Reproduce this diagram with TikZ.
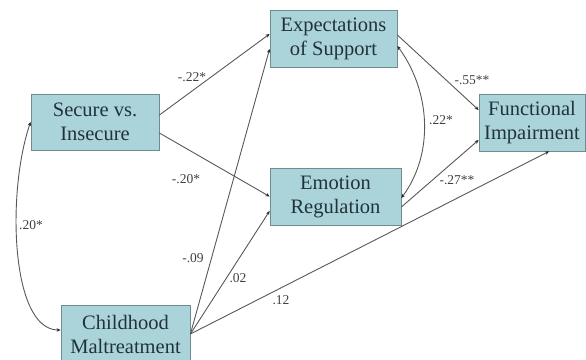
\documentclass[tikz,border=0pt]{standalone}
\usepackage{fontspec}
\setmainfont{Liberation Serif}
\usetikzlibrary{arrows.meta}

\definecolor{boxfill}{RGB}{170,212,217}
\definecolor{boxline}{RGB}{112,140,146}
\definecolor{boxtext}{RGB}{34,50,58}
\definecolor{pathgray}{RGB}{88,88,88}

\tikzset{
  var/.style={draw=boxline, fill=boxfill, text=boxtext, line width=0.8pt,
    align=center, inner sep=0pt, font=\fontsize{20.5}{24}\selectfont},
  path/.style={draw=pathgray, line width=0.9pt, -{Stealth[length=4pt,width=3.5pt,black!85]}},
  corr/.style={draw=pathgray, line width=0.9pt,
    {Stealth[length=4pt,width=3.5pt,black!85]}-{Stealth[length=4pt,width=3.5pt,black!85]}},
  coef/.style={text=black!75, font=\fontsize{13.5}{15}\selectfont, inner sep=0pt}
}

\begin{document}
\begin{tikzpicture}[x=1pt,y=1pt]
    \useasboundingbox (0,0) rectangle (586,359);
    \clip (0,0) rectangle (586,359);

    \node[var, minimum width=127pt, minimum height=57pt] (support) at (333.5,320.5) {Expectations\\of Support};
    \node[var, minimum width=128pt, minimum height=56pt] (secure) at (95,237) {Secure vs.\\Insecure};
    \node[var, minimum width=106pt, minimum height=57pt] (impair) at (532,236.5) {Functional\\Impairment};
    \node[var, minimum width=131pt, minimum height=57pt] (emotion) at (335.5,162.5) {Emotion\\Regulation};
    \node[var, minimum width=129pt, minimum height=58pt] (maltreat) at (125.5,25) {Childhood\\Maltreatment};

    \draw[path] ([yshift=7pt]secure.east) -- ([yshift=4.5pt]support.west);
    \draw[path] ([yshift=-11pt]secure.east) -- (emotion.west);
    \draw[path] (maltreat.east) -- ([yshift=-10.5pt]support.west);
    \draw[path] (maltreat.east) -- ([yshift=-14.5pt]emotion.west);
    \draw[path] (maltreat.east) -- ([xshift=17pt]impair.south);
    \draw[path] ([yshift=3.5pt]support.east) -- ([yshift=12.5pt]impair.west);
    \draw[path] ([yshift=-10.5pt]emotion.east) -- ([yshift=-17.5pt]impair.west);

    % correlations
    \draw[corr] ([yshift=-7.5pt]support.east) .. controls +(33,-45) and +(33,45) .. ([yshift=-1.5pt]emotion.east);
    \draw[corr] (secure.west) .. controls +(-24,-70) and +(-50,0) .. ([yshift=4pt]maltreat.west);

    \node[coef] (c1) at (192,282) {-.22*};
    \node[coef] (c2) at (186,180) {-.20*};
    \node[coef] (c3) at (193,101) {-.09};
    \node[coef] (c4) at (238,81) {.02};
    \node[coef] (c5) at (281,59) {.12};
    \node[coef] (c6) at (31,134) {.20*};
    \node[coef] (c7) at (441,239) {.22*};
    \node[coef] (c8) at (472,279) {-.55**};
    \node[coef] (c9) at (457,179) {-.27**};
\end{tikzpicture}
\end{document}
